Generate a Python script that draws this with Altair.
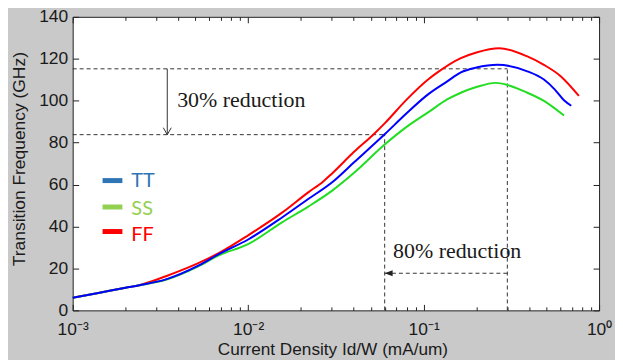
import altair as alt
import pandas as pd

# ---------------- data ----------------
series_names = ["FF", "SS", "TT"]
line_colors = ["#FF0000", "#22DD22", "#0000FF"]

ff_x = [0.001, 0.0014, 0.002, 0.0024, 0.0034, 0.0052, 0.0068, 0.01, 0.0156, 0.022,
        0.0268, 0.03, 0.04, 0.0516, 0.06, 0.08, 0.106, 0.12, 0.163, 0.2, 0.27, 0.39,
        0.485, 0.604, 0.767]
ff_y = [6.0, 8.3, 10.8, 12.0, 16.3, 22.5, 27.3, 35.8, 46.6, 56.3,
        61.5, 65.2, 75.5, 83.8, 89.2, 100.5, 110.1, 113.5, 120.3, 123.0, 125.0, 121.1,
        117.1, 111.7, 102.3]

ss_x = [0.001, 0.0014, 0.002, 0.0024, 0.0034, 0.0052, 0.0068, 0.01, 0.0156, 0.022,
        0.03, 0.04, 0.06, 0.08, 0.106, 0.137, 0.163, 0.2, 0.258, 0.39, 0.485, 0.631]
ss_y = [6.0, 8.3, 10.8, 12.0, 14.6, 21.0, 26.2, 31.6, 42.0, 49.5,
        57.0, 65.5, 79.1, 87.5, 94.4, 100.7, 103.8, 106.5, 108.5, 103.8, 99.9, 92.9]

tt_x = [0.001, 0.0014, 0.002, 0.0024, 0.0034, 0.0052, 0.0068, 0.01, 0.0156, 0.022,
        0.0305, 0.04, 0.06, 0.08, 0.106, 0.137, 0.163, 0.2, 0.264, 0.39, 0.485, 0.56,
        0.631, 0.694]
tt_y = [6.0, 8.3, 10.8, 12.0, 14.8, 21.3, 26.8, 33.8, 44.3, 53.1,
        61.5, 70.5, 84.0, 94.0, 103.0, 109.3, 113.5, 115.8, 117.1, 114.0, 110.1, 105.3,
        100.2, 97.6]

x_major = [0.001, 0.01, 0.1, 1]
x_tick_labels = ["10⁻³", "10⁻²", "10⁻¹", "10⁰"]
x_minor = [0.002, 0.003, 0.004, 0.005, 0.006, 0.007, 0.008, 0.009,
           0.02, 0.03, 0.04, 0.05, 0.06, 0.07, 0.08, 0.09,
           0.2, 0.3, 0.4, 0.5, 0.6, 0.7, 0.8, 0.9]
y_ticks = [0, 20, 40, 60, 80, 100, 120, 140]

# annotation values
h_y = [115.2, 83.8]
h_x1 = [0.001, 0.001]
h_x2 = [0.3, 0.06]
v_x = [0.06, 0.3]
v_y1 = [0, 0]
v_y2 = [83.8, 115.2]
arrow_v_x = [0.00346]
arrow_v_y1 = [115.2]
arrow_v_y2 = [83.8]
arrow_h_y = [17.7]
arrow_h_x1 = [0.3]
arrow_h_x2 = [0.06]
note_text = ["30% reduction", "80% reduction"]
note_x = [0.00394, 0.067]
note_y = [96.8, 24.8]

legend_labels = ["TT", "SS", "FF"]
legend_colors = ["#2E75B6", "#92D050", "#FF0000"]
legend_sw_x1 = [0.00148, 0.00148, 0.00148]
legend_sw_x2 = [0.00192, 0.00192, 0.00192]
legend_sw_y = [61.9, 49.3, 37.6]
legend_tx_x = [0.00216, 0.00216, 0.00216]
legend_tx_y = [61.5, 48.4, 35.7]

# ---------------- tables ----------------
rows = []
for name, col, xs, ys in [("FF", line_colors[0], ff_x, ff_y),
                          ("SS", line_colors[1], ss_x, ss_y),
                          ("TT", line_colors[2], tt_x, tt_y)]:
    for xv, yv in zip(xs, ys):
        rows.append({"series": name, "color": col, "x": xv, "y": yv})
curves = pd.DataFrame(rows)

hdf = pd.DataFrame({"x1": h_x1, "x2": h_x2, "y": h_y})
vdf = pd.DataFrame({"x": v_x, "y1": v_y1, "y2": v_y2})
avdf = pd.DataFrame({"x": arrow_v_x, "y1": arrow_v_y1, "y2": arrow_v_y2})
ahdf = pd.DataFrame({"x1": arrow_h_x1, "x2": arrow_h_x2, "y": arrow_h_y})
notes = pd.DataFrame({"text": note_text, "x": note_x, "y": note_y})
leg_sw = pd.DataFrame({"x1": legend_sw_x1, "x2": legend_sw_x2, "y": legend_sw_y, "color": legend_colors})
leg_tx = pd.DataFrame({"x": legend_tx_x, "y": legend_tx_y, "text": legend_labels, "color": legend_colors})

# ---------------- scales & axes ----------------
xscale = alt.Scale(type="log", domain=[0.001, 1], nice=False)
yscale = alt.Scale(domain=[0, 140], nice=False, zero=False)

SANS = "Liberation Sans"
TXT = "#1a1a1a"
label_expr = "[" + ",".join("'%s'" % s for s in x_tick_labels) + "][round(log(datum.value)/LN10)+3]"

main_x_axis = alt.Axis(
    orient="bottom", values=x_major, labelExpr=label_expr, ticks=False, domain=False,
    grid=False, labelFont=SANS, labelFontSize=17.5, labelColor=TXT, labelPadding=10,
    labelFlush=False, labelOverlap=False,
    title="Current Density Id/W (mA/um)", titleFont=SANS, titleFontSize=17.3,
    titleFontWeight="normal", titleColor=TXT, titleX=261, titleY=44,
    titleBaseline="alphabetic", titleAlign="center")
main_y_axis = alt.Axis(
    orient="left", values=y_ticks, ticks=False, domain=False, grid=False,
    labelFont=SANS, labelFontSize=17.5, labelColor=TXT, labelPadding=5,
    title="Transition Frequency (GHz)", titleFont=SANS, titleFontSize=17.5,
    titleFontWeight="normal", titleColor=TXT, titleAngle=270, titleX=-53, titleY=142.5,
    titleAlign="center", titleBaseline="middle")


def tick_axis(orient, values, size):
    return alt.Axis(orient=orient, values=values, offset=-size, tickSize=size,
                    tickColor="#222222", tickWidth=1, labels=False, domain=False,
                    grid=False, title=None)


MAJ = 6
MIN = 3.5

lines = alt.Chart(curves).mark_line(strokeWidth=2, interpolate="monotone").encode(
    x=alt.X("x:Q", scale=xscale, axis=main_x_axis),
    y=alt.Y("y:Q", scale=yscale, axis=main_y_axis),
    color=alt.Color("color:N", scale=None),
    detail="series:N",
)

hlines = alt.Chart(hdf).mark_rule(strokeDash=[4, 3], color="#333333", strokeWidth=1).encode(
    x=alt.X("x1:Q", scale=xscale, axis=tick_axis("bottom", x_major, MAJ)),
    x2="x2:Q",
    y=alt.Y("y:Q", scale=yscale, axis=tick_axis("left", y_ticks, MAJ)),
)

vlines = alt.Chart(vdf).mark_rule(strokeDash=[4, 3], color="#333333", strokeWidth=1).encode(
    x=alt.X("x:Q", scale=xscale, axis=tick_axis("bottom", x_minor, MIN)),
    y=alt.Y("y1:Q", scale=yscale, axis=tick_axis("right", y_ticks, MAJ)),
    y2="y2:Q",
)

varrow = alt.Chart(avdf).mark_rule(color="#333333", strokeWidth=1).encode(
    x=alt.X("x:Q", scale=xscale, axis=tick_axis("top", x_major, MAJ)),
    y=alt.Y("y1:Q", scale=yscale, axis=None),
    y2="y2:Q",
)

harrow = alt.Chart(ahdf).mark_rule(strokeDash=[4, 3], color="#333333", strokeWidth=1).encode(
    x=alt.X("x1:Q", scale=xscale, axis=tick_axis("top", x_minor, MIN)),
    x2="x2:Q",
    y=alt.Y("y:Q", scale=yscale, axis=None),
)

vhead = alt.Chart(avdf).mark_point(
    shape="M-0.8,-1.4L0,0L0.8,-1.4", size=100, filled=False, stroke="#333333",
    strokeWidth=1, opacity=1).encode(
    x=alt.X("x:Q", scale=xscale, axis=None),
    y=alt.Y("y2:Q", scale=yscale, axis=None),
)

hhead = alt.Chart(ahdf).mark_point(
    shape="M0,0L2,-0.75L2,0.75Z", size=64, filled=True, fill="#222222",
    strokeWidth=0, opacity=1).encode(
    x=alt.X("x2:Q", scale=xscale, axis=None),
    y=alt.Y("y:Q", scale=yscale, axis=None),
)

note_marks = alt.Chart(notes).mark_text(
    font="Liberation Serif", fontSize=22, color=TXT, align="left",
    baseline="alphabetic").encode(
    x=alt.X("x:Q", scale=xscale, axis=None),
    y=alt.Y("y:Q", scale=yscale, axis=None),
    text="text:N",
)

legend_swatches = alt.Chart(leg_sw).mark_rule(strokeWidth=5).encode(
    x=alt.X("x1:Q", scale=xscale, axis=None),
    x2="x2:Q",
    y=alt.Y("y:Q", scale=yscale, axis=None),
    color=alt.Color("color:N", scale=None),
)

legend_text = alt.Chart(leg_tx).mark_text(
    font="Lato", fontSize=20, align="left", baseline="middle").encode(
    x=alt.X("x:Q", scale=xscale, axis=None),
    y=alt.Y("y:Q", scale=yscale, axis=None),
    text="text:N",
    color=alt.Color("color:N", scale=None),
)

chart = alt.layer(
    hlines, vlines, varrow, harrow, vhead, hhead, lines,
    note_marks, legend_swatches, legend_text,
).resolve_axis(
    x="independent", y="independent"
).properties(
    width=529, height=295,
    autosize=alt.AutoSizeParams(type="none"),
    padding={"left": 65, "top": 8, "right": 16, "bottom": 49},
    background="#c9c9c9",
).configure_view(
    fill="white", stroke="#222222", strokeWidth=1
)

chart.save("out.html", embed_options={"renderer": "svg", "actions": False})
